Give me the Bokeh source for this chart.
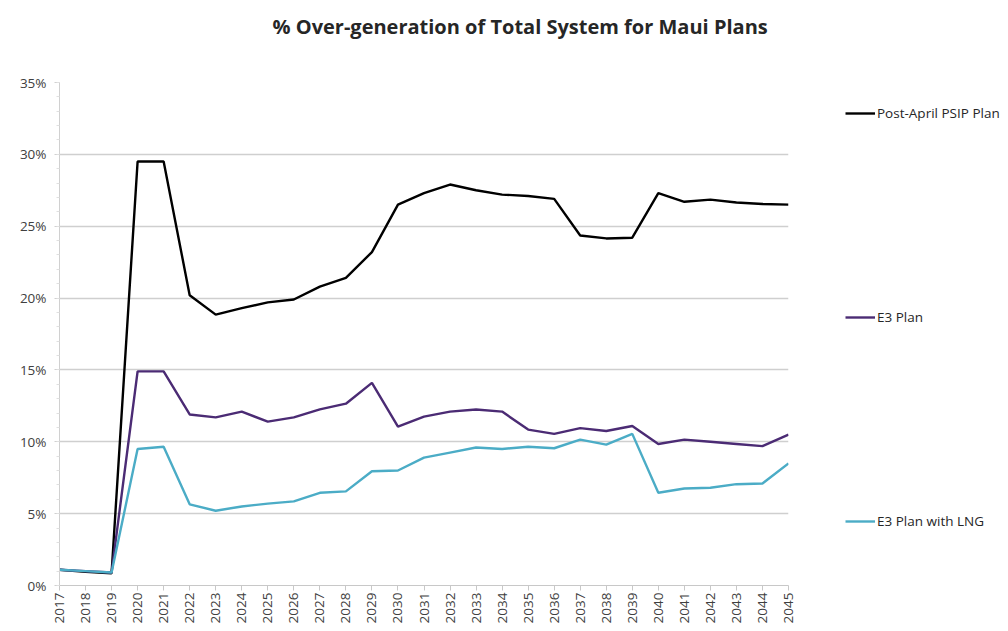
from bokeh.plotting import figure
from bokeh.models import Legend, LegendItem, NumeralTickFormatter, FixedTicker, Title, Range1d
from bokeh.embed import file_html
from bokeh.resources import INLINE

years = list(range(2017, 2046))
post_april_psip = [1.1, 0.95, 0.85, 29.5, 29.5, 20.2, 18.85, 19.3, 19.7, 19.9, 20.8, 21.4, 23.2, 26.5,
                   27.3, 27.9, 27.5, 27.2, 27.1, 26.9, 24.35, 24.15, 24.2, 27.3, 26.7, 26.85, 26.65, 26.55, 26.5]
e3_plan = [1.1, 1.0, 0.9, 14.9, 14.9, 11.9, 11.7, 12.1, 11.4, 11.7, 12.25, 12.65, 14.1, 11.05,
           11.75, 12.1, 12.25, 12.1, 10.85, 10.55, 10.95, 10.75, 11.1, 9.85, 10.15, 10.0, 9.85, 9.7, 10.5]
e3_plan_lng = [1.1, 1.0, 0.9, 9.5, 9.65, 5.65, 5.2, 5.5, 5.7, 5.85, 6.45, 6.55, 7.95, 8.0,
               8.9, 9.25, 9.6, 9.5, 9.65, 9.55, 10.15, 9.8, 10.55, 6.45, 6.75, 6.8, 7.05, 7.1, 8.5]
series_names = ["Post-April PSIP Plan", "E3 Plan", "E3 Plan with LNG"]
y_ticks = [0, 5, 10, 15, 20, 25, 30, 35]

FONT = "Open Sans"

p = figure(output_backend="svg", toolbar_location=None,
           frame_width=729, frame_height=503,
           x_range=Range1d(2017, 2045), y_range=Range1d(0, 0.35),
           min_border_left=59, min_border_right=200, min_border_top=82, min_border_bottom=38)
p.title = None
p.outline_line_color = None
p.background_fill_color = "white"
p.border_fill_color = "white"

colors = ["#000000", "#4b2b74", "#4bacc6"]
data = [post_april_psip, e3_plan, e3_plan_lng]
renderers = []
for vals, c in zip(data, colors):
    r = p.line(years, [v / 100 for v in vals], line_color=c, line_width=2.4)
    renderers.append(r)

# axes
p.yaxis.ticker = FixedTicker(ticks=[t / 100 for t in y_ticks],
                             minor_ticks=[i / 100 for i in range(0, 36)])
p.yaxis.formatter = NumeralTickFormatter(format="0%")
p.yaxis.axis_line_color = "#d0d0d0"
p.yaxis.major_tick_line_color = "#d0d0d0"
p.yaxis.major_tick_out = 5
p.yaxis.major_tick_in = 0
p.yaxis.minor_tick_line_color = "#e0e0e0"
p.yaxis.minor_tick_out = 3
p.yaxis.minor_tick_in = 0
p.yaxis.major_label_text_font = FONT
p.yaxis.major_label_text_font_size = "13.5px"
p.yaxis.major_label_text_color = "#404040"
p.yaxis.major_label_standoff = 8

p.xaxis.ticker = FixedTicker(ticks=years)
p.xaxis.major_label_orientation = 1.5708
p.xaxis.axis_line_color = "#c8c8c8"
p.xaxis.major_tick_line_color = "#c8c8c8"
p.xaxis.major_tick_out = 5
p.xaxis.major_tick_in = 0
p.xaxis.minor_tick_line_color = None
p.xaxis.major_label_text_font = FONT
p.xaxis.major_label_text_font_size = "13.5px"
p.xaxis.major_label_text_color = "#404040"
p.xaxis.major_label_standoff = 2

p.xgrid.grid_line_color = None
p.ygrid.grid_line_color = "#cfcfcf"
p.ygrid.grid_line_width = 1.5

spacer = Title(text=" ", text_font_size="10px", standoff=30)
p.add_layout(spacer, "above")
title = Title(text="% Over-generation of Total System for Maui Plans", align="left",
              offset=213, text_font=FONT, text_font_size="20px", text_font_style="bold",
              text_color="#262626", standoff=0)
p.add_layout(title, "above")

items = [LegendItem(label=n, renderers=[r]) for n, r in zip(series_names, renderers)]
legend = Legend(items=items, location=(57, 54), spacing=184, glyph_width=30, glyph_height=20,
                label_text_font=FONT, label_text_font_size="13.5px", label_text_color="#262626",
                label_standoff=2, border_line_color=None, background_fill_alpha=0,
                padding=0, margin=0)
p.add_layout(legend, "right")

open("out.html", "w").write(file_html(p, INLINE))
